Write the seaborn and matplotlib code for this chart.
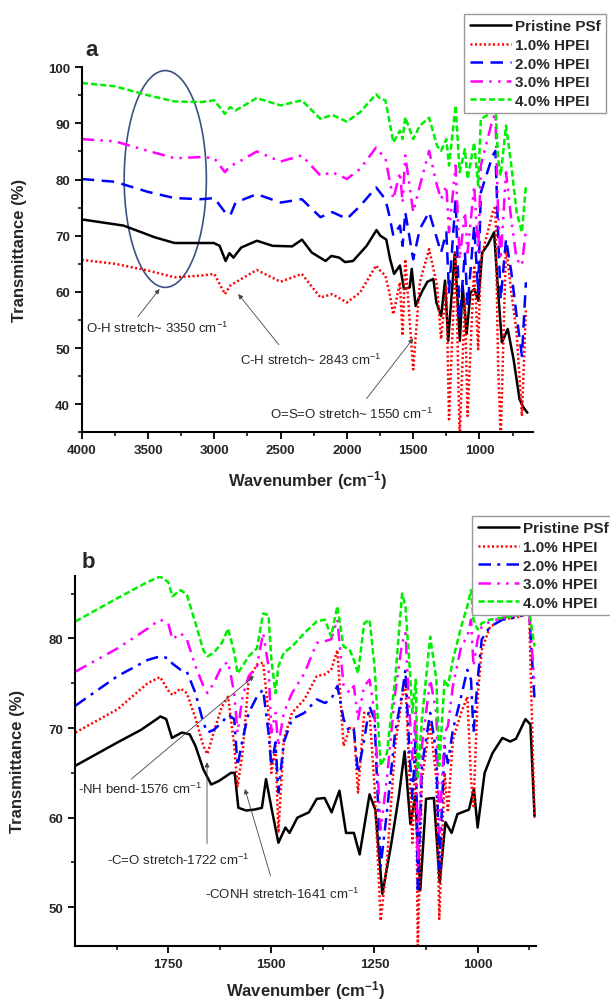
import pandas as pd
import matplotlib
matplotlib.use("Agg")
import matplotlib.pyplot as plt
import seaborn as sns
from matplotlib.patches import Ellipse
from matplotlib.ticker import MultipleLocator

# =============================================================================
# Values
# =============================================================================
labels = ['Pristine PSf', '1.0% HPEI', '2.0% HPEI', '3.0% HPEI', '4.0% HPEI']
colors = ['black', '#ff0000', '#0000ff', '#ff00ff', '#00ee00']

# panel a, full range
a_psf_wn = [4000, 3684, 3447, 3300, 3004, 2960, 2915, 2886, 2856, 2797,
            2679, 2560, 2413, 2339, 2265, 2161, 2117, 2058, 2014, 1954,
            1851, 1777, 1748, 1703, 1674, 1644, 1600, 1570, 1526, 1511,
            1482, 1437, 1393, 1348, 1325, 1289, 1260, 1236, 1186, 1148,
            1127, 1097, 1068, 1038, 1009, 979, 935, 890, 861, 831,
            787, 743, 698, 668, 639]
a_psf = [72.9, 71.8, 69.7, 68.7, 68.7, 68.2, 65.5, 66.9, 66.1, 67.9,
         69.1, 68.2, 68.1, 69.3, 67.0, 65.5, 66.4, 66.1, 65.3, 65.5,
         68.2, 71.0, 70.0, 69.3, 65.8, 63.2, 64.7, 60.5, 60.8, 64.1,
         57.5, 59.9, 61.8, 62.3, 58.1, 55.7, 62.0, 51.3, 67.0, 51.3,
         61.1, 52.5, 59.9, 60.5, 58.4, 67.0, 68.5, 70.6, 60.5, 51.0,
         53.4, 48.0, 40.9, 39.4, 38.5]

a_wn = [4000, 3750, 3500, 3300, 3100, 3000, 2920, 2880, 2840, 2680,
        2500, 2340, 2200, 2110, 2000, 1900, 1780, 1750, 1710, 1680,
        1650, 1600, 1580, 1560, 1500, 1450, 1380, 1320, 1290, 1250,
        1230, 1180, 1150, 1110, 1090, 1040, 1010, 990, 900, 880,
        860, 840, 800, 760, 720, 680, 650]
a_10 = [65.7, 65.0, 63.8, 62.6, 62.9, 63.2, 59.6, 61.1, 61.7, 63.9,
        61.8, 63.2, 59.0, 59.6, 58.1, 59.9, 64.7, 63.8, 62.9, 59.9,
        56.0, 61.7, 52.2, 65.8, 46.2, 61.7, 67.6, 61.1, 51.6, 61.1,
        37.3, 67.0, 34.0, 58.7, 37.9, 64.7, 49.8, 65.8, 74.2, 75.3,
        47.4, 34.0, 68.2, 59.9, 52.8, 37.9, 57.0]
a_20 = [80.1, 79.6, 77.8, 76.7, 76.5, 76.7, 74.2, 73.6, 75.9, 77.4,
        75.9, 76.5, 73.3, 74.2, 73.0, 75.3, 78.6, 77.7, 76.5, 73.6,
        70.0, 71.8, 68.2, 74.2, 65.8, 71.2, 74.2, 69.4, 67.0, 70.6,
        59.9, 76.5, 55.2, 67.0, 57.5, 71.8, 59.9, 77.7, 84.3, 85.1,
        70.6, 58.7, 69.4, 63.5, 55.7, 48.6, 61.7]
a_30 = [87.2, 86.8, 85.1, 83.8, 84.0, 83.8, 81.3, 82.5, 82.8, 85.0,
        83.2, 84.3, 80.7, 81.3, 80.1, 81.9, 85.7, 84.8, 83.9, 80.1,
        76.5, 81.3, 75.9, 84.3, 74.2, 78.9, 85.1, 78.9, 76.5, 78.9,
        70.6, 82.5, 65.8, 74.2, 67.0, 78.9, 67.0, 82.5, 90.8, 91.7,
        74.2, 65.8, 81.3, 72.8, 65.8, 64.7, 71.2]
a_40 = [97.2, 96.6, 95.0, 93.9, 93.8, 94.1, 91.7, 92.9, 92.3, 94.5,
        93.2, 94.1, 90.8, 91.5, 90.3, 92.0, 95.2, 94.4, 94.1, 90.5,
        86.6, 88.7, 87.2, 91.1, 87.2, 89.6, 91.0, 86.0, 85.1, 87.2,
        82.5, 93.2, 81.3, 85.4, 80.1, 86.6, 78.9, 90.8, 92.0, 93.2,
        83.7, 80.7, 89.6, 82.5, 74.2, 70.6, 78.9]

# panel b, fingerprint region
b_psf_wn = [1975, 1873, 1816, 1778, 1769, 1755, 1741, 1717, 1698, 1684,
            1665, 1646, 1627, 1598, 1589, 1580, 1561, 1542, 1523, 1513,
            1499, 1483, 1466, 1456, 1437, 1409, 1390, 1371, 1354, 1335,
            1319, 1300, 1286, 1262, 1248, 1231, 1210, 1191, 1177, 1163,
            1151, 1139, 1125, 1106, 1092, 1078, 1063, 1049, 1021, 1009,
            1000, 983, 964, 940, 921, 907, 884, 872, 862]
b_psf = [65.8, 68.4, 69.8, 71.0, 71.3, 71.0, 68.9, 69.5, 69.3, 68.0,
         65.4, 63.7, 64.1, 65.0, 65.0, 61.1, 60.8, 60.9, 61.1, 64.3,
         60.9, 57.2, 58.9, 58.3, 60.0, 60.6, 62.1, 62.2, 60.6, 63.0,
         58.3, 58.3, 55.9, 62.6, 60.9, 51.5, 56.9, 62.4, 67.4, 59.3,
         62.4, 51.9, 62.1, 62.2, 52.8, 59.5, 58.3, 60.4, 60.9, 63.2,
         58.9, 65.0, 67.2, 68.9, 68.5, 68.8, 71.0, 70.4, 60.2]

b_wn = [1975, 1873, 1800, 1770, 1750, 1740, 1720, 1705, 1684, 1665,
        1655, 1640, 1620, 1605, 1590, 1582, 1570, 1555, 1535, 1520,
        1507, 1500, 1490, 1483, 1470, 1450, 1420, 1390, 1370, 1355,
        1340, 1325, 1310, 1300, 1290, 1275, 1262, 1250, 1235, 1220,
        1200, 1183, 1175, 1165, 1158, 1150, 1145, 1135, 1115, 1100,
        1093, 1080, 1072, 1060, 1040, 1025, 1016, 1010, 1000, 990,
        970, 940, 900, 875, 862]
b_10 = [69.5, 72.1, 75.0, 75.7, 74.2, 73.7, 74.4, 73.9, 71.1, 68.0,
        67.1, 69.5, 72.4, 73.5, 68.0, 63.5, 67.2, 75.4, 77.1, 77.3,
        71.7, 65.0, 68.0, 58.3, 68.7, 71.7, 73.2, 75.8, 76.0, 76.5,
        78.7, 68.0, 70.0, 70.0, 62.8, 71.7, 71.7, 63.5, 48.5, 55.0,
        68.0, 73.5, 75.0, 64.3, 57.2, 68.0, 45.5, 64.3, 70.6, 64.3,
        48.7, 65.0, 60.6, 68.7, 71.7, 73.5, 64.3, 61.3, 73.5, 78.7,
        81.3, 82.1, 82.4, 82.8, 60.0]
b_20 = [72.5, 75.8, 77.6, 78.0, 77.8, 77.2, 76.5, 76.3, 73.9, 70.6,
        69.5, 69.8, 70.6, 71.5, 71.0, 65.8, 68.7, 71.7, 73.5, 74.3,
        69.5, 65.8, 68.4, 62.8, 68.4, 71.0, 71.7, 73.2, 72.8, 73.2,
        74.7, 71.0, 69.5, 69.8, 65.0, 68.7, 72.4, 71.0, 54.6, 60.6,
        69.5, 73.9, 76.5, 67.2, 62.1, 69.5, 52.0, 65.8, 71.7, 67.2,
        54.3, 68.0, 66.1, 69.8, 73.5, 76.5, 75.4, 69.5, 75.4, 79.9,
        81.3, 82.1, 82.4, 83.0, 73.2]
b_30 = [76.3, 78.9, 81.1, 82.1, 81.7, 79.9, 80.6, 79.9, 76.9, 74.7,
        73.9, 75.0, 76.9, 77.4, 73.9, 69.5, 73.5, 75.8, 76.9, 80.6,
        76.9, 69.5, 71.7, 68.0, 71.7, 73.9, 76.1, 79.5, 79.7, 79.9,
        82.1, 74.7, 73.9, 74.7, 71.0, 74.7, 75.4, 71.7, 58.7, 64.3,
        73.9, 79.5, 80.6, 71.7, 66.5, 71.7, 54.6, 68.0, 75.4, 71.7,
        58.3, 69.5, 70.2, 74.7, 79.1, 80.2, 82.1, 76.9, 79.9, 81.3,
        81.9, 82.3, 82.6, 83.0, 74.7]
b_40 = [81.9, 84.5, 86.3, 86.9, 86.3, 84.7, 85.4, 84.9, 81.7, 78.7,
        78.0, 78.4, 79.5, 81.1, 78.4, 76.1, 76.9, 78.0, 78.9, 82.8,
        82.6, 77.6, 73.9, 76.9, 78.4, 79.1, 80.6, 81.9, 82.1, 80.2,
        83.6, 79.1, 78.7, 77.6, 76.1, 81.7, 82.1, 76.9, 65.8, 67.2,
        75.4, 85.0, 83.6, 76.9, 71.7, 75.4, 64.3, 71.0, 80.2, 75.4,
        65.8, 75.4, 74.7, 77.6, 81.3, 83.6, 85.4, 82.1, 81.0, 81.7,
        82.1, 82.3, 82.6, 83.0, 79.1]

# =============================================================================
# Style
# =============================================================================
sns.set_style('ticks')
plt.rcParams['font.family'] = ['Liberation Sans', 'DejaVu Sans']
plt.rcParams['mathtext.fontset'] = 'custom'
plt.rcParams['mathtext.rm'] = 'Liberation Sans'
plt.rcParams['mathtext.bf'] = 'Liberation Sans:bold'
plt.rcParams['mathtext.default'] = 'regular'

dash_a = [(None, None), (0.8, 1.0), (5, 3), (5, 2.5, 1, 2.5, 1, 2.5), (2.5, 1.2)]
dash_b = [(None, None), (0.8, 1.0), (5, 2.5, 1.2, 2.5), (5, 2.5, 1, 2.5, 1, 2.5), (2.5, 1.2)]

fig = plt.figure(figsize=(6.1, 10.03), dpi=100)
ax_a = fig.add_axes([0.134, 0.568, 0.739, 0.364])
ax_b = fig.add_axes([0.123, 0.056, 0.756, 0.369])


def draw(ax, series, dashes):
    for (wn, t), lab, col, d in zip(series, labels, colors, dashes):
        kw = {} if d[0] is None else {'dashes': d}
        sns.lineplot(x=wn, y=t, ax=ax, color=col, lw=1.8, label=lab,
                     sort=False, estimator=None, **kw)


def style(ax, xlim, ylim, xmaj, xmin, anchor):
    ax.set_xlim(*xlim)
    ax.set_ylim(*ylim)
    sns.despine(ax=ax)
    for s in ['left', 'bottom']:
        ax.spines[s].set_linewidth(1.5)
        ax.spines[s].set_color('black')
    ax.xaxis.set_major_locator(MultipleLocator(xmaj))
    ax.xaxis.set_minor_locator(MultipleLocator(xmin))
    ax.yaxis.set_major_locator(MultipleLocator(10))
    ax.yaxis.set_minor_locator(MultipleLocator(5))
    ax.tick_params(which='major', direction='out', length=5, width=1.3,
                   labelsize=9.5, color='black')
    ax.tick_params(which='minor', direction='out', length=3, width=1.1,
                   color='black')
    for lab in ax.get_xticklabels() + ax.get_yticklabels():
        lab.set_fontweight('bold')
    ax.set_ylabel('Transmittance (%)', fontsize=12, fontweight='bold')
    ax.set_xlabel(r'Wavenumber (cm$^{\mathbf{-1}}$)', fontsize=12,
                  fontweight='bold')
    leg = ax.legend(loc='upper right', bbox_to_anchor=anchor,
                    bbox_transform=fig.transFigure, borderaxespad=0,
                    fancybox=False, edgecolor='#999999', framealpha=1,
                    handlelength=2.7, handletextpad=0.25, labelspacing=0.3,
                    borderpad=0.35, prop={'size': 11, 'weight': 'bold'})
    leg.get_frame().set_linewidth(1.0)


# =============================================================================
# Panel a
# =============================================================================
draw(ax_a, [(a_psf_wn, a_psf), (a_wn, a_10), (a_wn, a_20), (a_wn, a_30),
            (a_wn, a_40)], dash_a)
style(ax_a, (4000, 600), (35, 100), 500, 250, (606 / 610, 1 - 15 / 1003))
ax_a.yaxis.set_label_coords(-0.122, 0.5)
ax_a.xaxis.set_label_coords(0.5, -0.098)

ax_a.add_patch(Ellipse((3370, 80.1), 620, 38.6, fill=False,
                       edgecolor='#3b5083', lw=1.2))
arr = dict(arrowstyle='-|>', color='#444444', lw=0.6, mutation_scale=7)
ax_a.annotate('', xy=(3400, 60.9), xytext=(3589, 55.2), arrowprops=arr)
ax_a.annotate('', xy=(2833, 60.0), xytext=(2500, 50.2), arrowprops=arr)
ax_a.annotate('', xy=(1487, 52.1), xytext=(1865, 40.6), arrowprops=arr)
ax_a.text(3966, 53.7, r'O-H stretch~ 3350 cm$^{-1}$', fontsize=9.5,
          va='center', ha='left')
ax_a.text(2810, 48.0, r'C-H stretch~ 2843 cm$^{-1}$', fontsize=9.5,
          va='center', ha='left')
ax_a.text(2583, 38.3, r'O=S=O stretch~ 1550 cm$^{-1}$', fontsize=9.5,
          va='center', ha='left')
fig.text(92 / 610, 1 - 50 / 1003, 'a', fontsize=16, fontweight='bold',
         ha='center', va='center')

# =============================================================================
# Panel b
# =============================================================================
draw(ax_b, [(b_psf_wn, b_psf), (b_wn, b_10), (b_wn, b_20), (b_wn, b_30),
            (b_wn, b_40)], dash_b)
style(ax_b, (1976, 858), (45.7, 87), 250, 125, (614 / 610, 1 - 517 / 1003))
ax_b.yaxis.set_label_coords(-0.108, 0.5)
ax_b.xaxis.set_label_coords(0.5, -0.088)

ax_b.annotate('', xy=(1537, 76.0), xytext=(1845, 64.1), arrowprops=arr)
ax_b.annotate('', xy=(1656, 66.5), xytext=(1656, 56.8), arrowprops=arr)
ax_b.annotate('', xy=(1566, 63.5), xytext=(1500, 53.2), arrowprops=arr)
ax_b.text(1969, 63.3, r'-NH bend-1576 cm$^{-1}$', fontsize=9.5,
          va='center', ha='left')
ax_b.text(1898, 55.4, r'-C=O stretch-1722 cm$^{-1}$', fontsize=9.5,
          va='center', ha='left')
ax_b.text(1660, 51.5, r'-CONH stretch-1641 cm$^{-1}$', fontsize=9.5,
          va='center', ha='left')
fig.text(88 / 610, 1 - 562 / 1003, 'b', fontsize=16, fontweight='bold',
         ha='center', va='center')

fig.savefig('out.png', dpi=100)
